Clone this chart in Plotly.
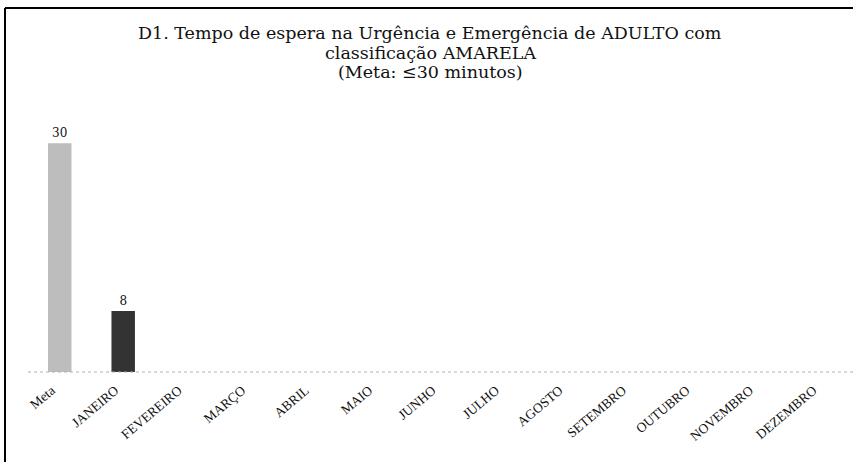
import plotly.graph_objects as go

categories = ["Meta", "JANEIRO", "FEVEREIRO", "MARÇO", "ABRIL", "MAIO", "JUNHO",
              "JULHO", "AGOSTO", "SETEMBRO", "OUTUBRO", "NOVEMBRO", "DEZEMBRO"]
values = [30, 8, None, None, None, None, None, None, None, None, None, None, None]
labels = ["30", "8", "", "", "", "", "", "", "", "", "", "", ""]
colors = ["#bdbdbd", "#333333"] + ["#333333"] * 11
title_lines = ["D1. Tempo de espera na Urgência e Emergência de ADULTO com",
               "classificação AMARELA",
               "(Meta: ≤30 minutos)"]

W, H = 853, 462
ml, mr, mt, mb = 28, 0, 128, 90

fig = go.Figure(go.Bar(
    x=categories, y=values, text=labels, textposition="outside",
    textfont=dict(family="DejaVu Serif", size=12, color="#111"),
    marker=dict(color=colors, line=dict(width=0)),
    cliponaxis=False,
))

pw = W - ml - mr
ph = H - mt - mb
def px(x):
    return (x - ml) / pw
def py(y):
    return (H - mb - y) / ph

title_y = [33.5, 53, 72.5]
annotations = [
    dict(text=t, xref="paper", yref="paper", x=px(430), y=py(yy),
         xanchor="center", yanchor="middle", showarrow=False,
         font=dict(family="DejaVu Serif", size=17.5, color="#111"))
    for t, yy in zip(title_lines, title_y)
]

fig.update_layout(
    width=W, height=H,
    margin=dict(l=ml, r=mr, t=mt, b=mb),
    paper_bgcolor="white", plot_bgcolor="white",
    bargap=0.63,
    showlegend=False,
    annotations=annotations,
    xaxis=dict(
        tickangle=-40, showgrid=False, showline=False, ticks="",
        tickfont=dict(family="Liberation Serif", size=13.5, color="#111"),
        ticklabelshift=-8, ticklabelstandoff=7,
    ),
    yaxis=dict(range=[0, 32], visible=False, showgrid=False),
    shapes=[
        dict(type="line", xref="paper", yref="paper", x0=0, x1=1, y0=0, y1=0,
             line=dict(color="#b0b0b0", width=1, dash="dot")),
        dict(type="line", xref="paper", yref="paper", x0=px(5), x1=px(5),
             y0=py(8), y1=py(H), line=dict(color="black", width=2)),
        dict(type="line", xref="paper", yref="paper", x0=px(5), x1=px(W),
             y0=py(8), y1=py(8), line=dict(color="black", width=2)),
    ],
)

fig.write_html("out.html", config={"displayModeBar": False},
               post_script="document.body.style.margin='0px';")
